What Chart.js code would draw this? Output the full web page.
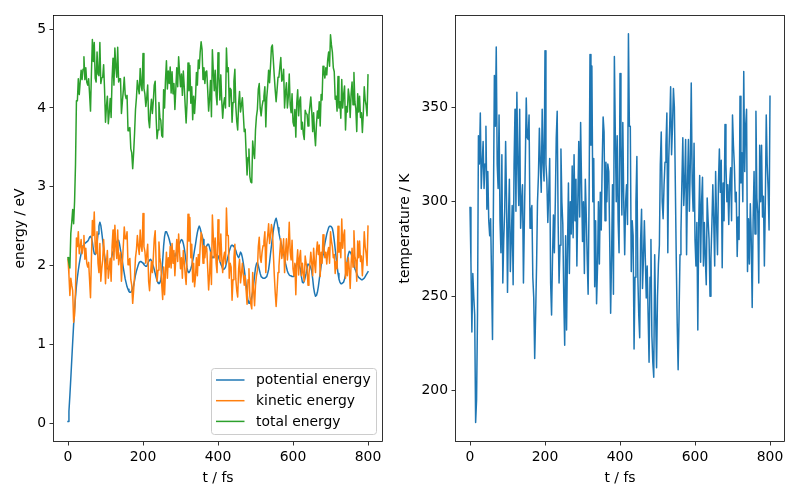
<!DOCTYPE html>
<html><head><meta charset="utf-8">
<script src="https://cdn.jsdelivr.net/npm/chart.js@4.4.1/dist/chart.umd.min.js"></script>
<style>
html,body{margin:0;padding:0;background:#fff;}
#wrap{position:relative;width:800px;height:500px;overflow:hidden;background:#fff;}
#c1{position:absolute;left:0;top:0;}
#c2{position:absolute;left:390px;top:0;}
</style></head><body>
<div id="wrap"><canvas id="c1" width="400" height="500"></canvas><canvas id="c2" width="410" height="500"></canvas></div>
<script>
// time in fs
const time = [
0,2.5,5,7.5,10,12.5,15,17.5,20,22.5,25,27.5,30,32.5,35,37.5,40,42.5,45,47.5,
50,52.5,55,57.5,60,62.5,65,67.5,70,72.5,75,77.5,80,82.5,85,87.5,90,92.5,95,97.5,
100,102.5,105,107.5,110,112.5,115,117.5,120,122.5,125,127.5,130,132.5,135,137.5,140,142.5,145,147.5,
150,152.5,155,157.5,160,162.5,165,167.5,170,172.5,175,177.5,180,182.5,185,187.5,190,192.5,195,197.5,
200,202.5,205,207.5,210,212.5,215,217.5,220,222.5,225,227.5,230,232.5,235,237.5,240,242.5,245,247.5,
250,252.5,255,257.5,260,262.5,265,267.5,270,272.5,275,277.5,280,282.5,285,287.5,290,292.5,295,297.5,
300,302.5,305,307.5,310,312.5,315,317.5,320,322.5,325,327.5,330,332.5,335,337.5,340,342.5,345,347.5,
350,352.5,355,357.5,360,362.5,365,367.5,370,372.5,375,377.5,380,382.5,385,387.5,390,392.5,395,397.5,
400,402.5,405,407.5,410,412.5,415,417.5,420,422.5,425,427.5,430,432.5,435,437.5,440,442.5,445,447.5,
450,452.5,455,457.5,460,462.5,465,467.5,470,472.5,475,477.5,480,482.5,485,487.5,490,492.5,495,497.5,
500,502.5,505,507.5,510,512.5,515,517.5,520,522.5,525,527.5,530,532.5,535,537.5,540,542.5,545,547.5,
550,552.5,555,557.5,560,562.5,565,567.5,570,572.5,575,577.5,580,582.5,585,587.5,590,592.5,595,597.5,
600,602.5,605,607.5,610,612.5,615,617.5,620,622.5,625,627.5,630,632.5,635,637.5,640,642.5,645,647.5,
650,652.5,655,657.5,660,662.5,665,667.5,670,672.5,675,677.5,680,682.5,685,687.5,690,692.5,695,697.5,
700,702.5,705,707.5,710,712.5,715,717.5,720,722.5,725,727.5,730,732.5,735,737.5,740,742.5,745,747.5,
750,752.5,755,757.5,760,762.5,765,767.5,770,772.5,775,777.5,780,782.5,785,787.5,790,792.5,795,797.5,
800];
// potential energy / eV
const potentialEnergy = [
0.02,0.15,0.35,0.57,0.80,1.03,1.25,1.44,1.60,1.74,1.85,1.94,2.02,2.09,2.15,2.21,2.25,2.27,2.28,2.29,
2.30,2.31,2.33,2.36,2.37,2.35,2.30,2.21,2.15,2.14,2.18,2.28,2.40,2.50,2.55,2.51,2.42,2.32,2.22,2.13,
2.05,1.99,1.96,1.96,1.98,2.03,2.08,2.13,2.18,2.22,2.25,2.28,2.30,2.32,2.32,2.27,2.20,2.13,2.05,1.97,
1.90,1.83,1.78,1.73,1.70,1.67,1.66,1.66,1.68,1.71,1.75,1.81,1.88,1.93,1.97,2.01,2.04,2.05,2.05,2.04,
2.03,2.01,2.00,1.99,1.99,2.02,2.05,2.07,2.08,2.06,2.02,1.99,1.95,1.90,1.85,1.81,1.78,1.77,1.78,1.82,
1.90,2.06,2.25,2.37,2.43,2.43,2.40,2.37,2.33,2.28,2.22,2.18,2.15,2.12,2.11,2.14,2.18,2.22,2.25,2.28,
2.31,2.33,2.32,2.28,2.22,2.14,2.05,1.97,1.92,1.91,1.93,1.96,2.00,2.06,2.12,2.20,2.27,2.35,2.42,2.47,
2.50,2.47,2.42,2.38,2.33,2.26,2.21,2.22,2.25,2.27,2.27,2.23,2.18,2.13,2.10,2.10,2.12,2.13,2.14,2.13,
2.12,2.09,2.05,2.02,1.99,1.96,1.95,1.96,1.98,2.03,2.08,2.13,2.18,2.22,2.25,2.26,2.25,2.24,2.22,2.19,
2.15,2.12,2.10,2.13,2.17,2.15,2.10,2.03,1.95,1.86,1.75,1.64,1.55,1.52,1.52,1.55,1.60,1.67,1.76,1.87,
1.97,2.02,2.04,2.00,1.95,1.90,1.86,1.85,1.84,1.84,1.84,1.85,1.86,1.90,1.95,2.04,2.15,2.25,2.35,2.44,
2.52,2.57,2.60,2.55,2.48,2.41,2.35,2.30,2.25,2.20,2.15,2.09,2.03,1.98,1.93,1.90,1.88,1.87,1.87,1.86,
1.86,1.90,1.95,2.00,2.03,2.03,2.02,1.99,1.95,1.86,1.79,1.78,1.80,1.85,1.90,1.96,2.02,2.02,2.00,1.97,
1.93,1.83,1.72,1.65,1.61,1.62,1.66,1.73,1.82,1.91,2.00,2.07,2.14,2.21,2.28,2.34,2.40,2.44,2.48,2.50,
2.50,2.49,2.47,2.41,2.32,2.21,2.10,2.00,1.90,1.83,1.79,1.77,1.77,1.78,1.79,1.83,1.88,1.98,2.08,2.14,
2.18,2.17,2.15,2.11,2.06,2.01,1.96,1.93,1.90,1.87,1.85,1.84,1.83,1.82,1.82,1.83,1.84,1.86,1.88,1.90,
1.92];
// kinetic energy / eV
const kineticEnergy = [
2.08,1.88,1.62,1.84,1.75,1.68,1.28,1.37,1.68,2.35,2.24,2.43,2.15,2.24,2.33,2.15,2.24,2.38,2.08,2.22,
2.03,1.98,2.04,1.82,1.59,2.10,2.57,2.38,2.68,2.24,2.15,2.43,2.03,1.91,2.28,1.80,1.96,2.07,2.33,2.10,
1.77,2.03,2.19,1.84,1.96,2.09,1.80,2.24,2.45,2.07,2.51,2.24,2.09,2.45,2.01,2.10,2.17,1.80,2.03,2.25,
2.49,2.34,2.34,2.43,2.01,2.07,2.09,1.82,1.75,1.52,1.68,1.87,2.10,2.20,2.38,2.24,2.14,2.45,2.24,2.18,
2.66,2.24,2.18,2.03,2.14,2.27,1.80,1.68,1.89,2.05,1.91,2.10,2.34,2.44,2.03,1.80,1.94,2.30,2.10,2.02,
1.75,1.57,1.98,1.63,1.93,2.17,1.84,2.10,1.98,2.24,1.97,2.28,2.03,2.19,1.87,2.10,2.33,2.05,2.40,2.17,
1.96,2.10,1.84,2.19,2.05,1.89,1.76,2.10,2.65,2.31,2.61,2.10,2.27,1.79,2.03,1.73,1.86,2.10,1.87,2.14,
2.00,2.24,2.42,2.36,2.03,2.25,2.10,2.24,2.22,1.96,1.69,1.89,2.17,1.76,2.64,2.36,2.10,2.35,2.03,1.91,
2.58,2.31,2.05,2.40,2.10,1.91,2.10,2.17,2.02,2.73,2.38,2.38,1.84,2.03,1.98,1.56,1.82,2.10,2.27,1.83,
1.68,1.60,1.96,2.08,1.78,1.89,2.03,1.89,1.75,1.87,1.68,1.51,1.82,1.96,1.61,1.51,1.45,1.91,1.68,1.49,
1.75,1.87,1.94,2.24,2.36,2.10,2.04,2.17,2.25,2.31,2.43,1.91,2.27,2.38,2.53,2.28,2.38,2.52,2.45,2.17,
1.89,1.66,1.48,1.68,1.91,1.99,2.17,2.34,2.09,2.17,2.34,1.91,2.17,2.34,2.07,2.24,2.55,2.17,2.07,2.32,
1.96,1.87,2.03,1.63,2.03,2.20,1.88,2.10,2.19,1.87,2.03,1.89,1.80,2.12,2.03,1.96,1.75,1.89,2.02,2.17,
2.03,1.87,2.22,2.03,1.91,2.17,2.30,2.14,2.26,1.86,2.17,2.03,2.39,2.24,2.10,2.17,2.02,2.17,2.23,2.03,
2.43,2.31,2.24,2.10,2.14,1.90,2.05,1.96,2.50,2.17,2.29,2.10,2.59,2.22,2.38,2.45,1.84,2.04,1.87,2.10,
1.96,1.71,2.03,2.22,1.98,2.44,2.12,2.06,1.80,2.31,2.10,2.31,2.05,2.12,1.87,2.10,2.43,2.24,2.15,2.00,
2.50];
// total energy / eV
const totalEnergy = [
2.10,2.03,1.97,2.41,2.55,2.71,2.53,2.81,3.28,4.09,4.09,4.37,4.17,4.33,4.48,4.36,4.49,4.65,4.36,4.51,
4.33,4.29,4.37,4.18,3.96,4.45,4.87,4.59,4.83,4.38,4.33,4.71,4.43,4.41,4.83,4.31,4.38,4.39,4.55,4.23,
3.82,4.02,4.15,3.80,3.94,4.12,3.88,4.37,4.63,4.29,4.76,4.52,4.39,4.77,4.33,4.37,4.37,3.93,4.08,4.22,
4.39,4.17,4.12,4.16,3.71,3.74,3.75,3.48,3.43,3.23,3.43,3.68,3.98,4.13,4.35,4.25,4.18,4.50,4.29,4.22,
4.69,4.25,4.18,4.02,4.13,4.29,3.85,3.75,3.97,4.11,3.93,4.09,4.29,4.34,3.88,3.61,3.72,4.07,3.88,3.84,
3.65,3.63,4.23,4.00,4.36,4.60,4.24,4.47,4.31,4.52,4.19,4.46,4.18,4.31,3.98,4.24,4.51,4.27,4.65,4.45,
4.27,4.43,4.16,4.47,4.27,4.03,3.81,4.07,4.57,4.22,4.54,4.06,4.27,3.85,4.15,3.93,4.13,4.45,4.29,4.61,
4.50,4.71,4.84,4.74,4.36,4.51,4.31,4.46,4.47,4.23,3.96,4.12,4.35,3.89,4.74,4.46,4.22,4.48,4.17,4.04,
4.70,4.40,4.10,4.42,4.09,3.87,4.05,4.13,4.00,4.76,4.46,4.51,4.02,4.25,4.23,3.82,4.07,4.34,4.49,4.02,
3.83,3.72,4.06,4.21,3.95,4.04,4.13,3.92,3.70,3.73,3.43,3.15,3.37,3.48,3.13,3.06,3.05,3.58,3.44,3.36,
3.72,3.89,3.98,4.24,4.31,4.00,3.90,4.02,4.09,4.15,4.27,3.76,4.13,4.28,4.48,4.32,4.53,4.77,4.80,4.61,
4.41,4.23,4.08,4.23,4.39,4.40,4.52,4.64,4.34,4.37,4.49,4.00,4.20,4.32,4.00,4.14,4.43,4.04,3.94,4.18,
3.82,3.77,3.98,3.63,4.06,4.23,3.90,4.09,4.14,3.73,3.82,3.67,3.60,3.97,3.93,3.92,3.77,3.91,4.02,4.14,
3.96,3.70,3.94,3.68,3.52,3.79,3.96,3.87,4.08,3.77,4.17,4.10,4.53,4.45,4.38,4.51,4.42,4.61,4.71,4.53,
4.93,4.80,4.71,4.51,4.46,4.11,4.15,3.96,4.40,4.00,4.08,3.87,4.36,4.00,4.17,4.28,3.72,4.02,3.95,4.24,
4.14,3.88,4.18,4.33,4.04,4.45,4.08,3.99,3.70,4.18,3.95,4.15,3.88,3.94,3.69,3.93,4.27,4.10,4.03,3.90,
4.42];
// temperature / K
const temperature = [
297,268,231,262,250,240,183,195,240,335,320,347,307,320,332,307,320,340,296,316,
290,282,291,260,227,300,367,340,382,320,307,346,290,273,325,257,280,295,332,300,
252,290,312,263,280,298,256,320,349,295,358,320,298,349,286,300,309,257,290,321,
355,334,333,346,286,295,298,260,249,217,240,266,300,314,339,320,305,349,320,311,
380,320,311,289,305,323,257,240,270,293,273,300,334,348,290,257,277,328,300,288,
250,224,282,232,275,310,262,300,283,319,281,325,290,312,266,300,332,292,342,309,
279,300,262,312,293,270,251,300,378,330,372,300,323,255,290,246,265,300,267,305,
285,320,345,337,290,321,300,320,316,280,241,270,309,251,377,336,300,335,290,273,
368,330,293,342,300,272,300,309,288,389,340,340,263,290,282,222,260,300,324,261,
240,228,280,296,254,270,290,270,249,266,240,215,260,280,229,215,207,272,240,212,
250,267,277,320,337,300,291,309,321,330,347,273,323,340,361,325,340,360,350,310,
270,236,211,240,272,284,310,334,298,310,333,272,310,333,295,320,363,310,295,331,
280,266,289,232,290,314,268,300,313,266,289,270,256,302,290,280,250,270,288,309,
290,266,316,290,272,310,328,305,322,265,310,290,341,320,300,309,288,310,318,290,
346,330,319,300,305,271,292,280,356,310,326,300,369,316,340,349,263,291,267,299,
280,244,290,316,283,348,302,294,257,330,300,330,292,303,266,299,346,320,307,285,
356];

const timeTicks = [0,200,400,600,800];
const energyTicks = [0,1,2,3,4,5];
const temperatureTicks = [200,250,300,350];
const seriesNames = ['potential energy','kinetic energy','total energy'];
const seriesColors = ['#1f77b4','#ff7f0e','#2ca02c'];

Chart.defaults.color = '#000';
Chart.defaults.font.family = '"DejaVu Sans", sans-serif';
Chart.defaults.font.size = 13.9;

const FONT = {family:'"DejaVu Sans", sans-serif', size:13.9};

function pts(arr){ return time.map((t,i)=>({x:t, y:arr[i]})); }

const framePlugin = {
  id:'frame',
  afterDatasetsDraw(chart){
    const {ctx, chartArea:a} = chart;
    ctx.save();
    ctx.strokeStyle = '#000';
    ctx.lineWidth = 0.8;
    ctx.strokeRect(Math.round(a.left)+0.5, Math.round(a.top)+0.5, Math.round(a.right)-Math.round(a.left)-1, Math.round(a.bottom)-Math.round(a.top)-1);
    ctx.restore();
  }
};

const legendPlugin = {
  id:'boxLegend',
  afterDraw(chart){
    const ctx = chart.ctx;
    const x = 211.5, y = 368.5, w = 165, h = 66, r = 3;
    ctx.save();
    ctx.beginPath();
    ctx.moveTo(x+r,y); ctx.lineTo(x+w-r,y); ctx.arcTo(x+w,y,x+w,y+r,r);
    ctx.lineTo(x+w,y+h-r); ctx.arcTo(x+w,y+h,x+w-r,y+h,r);
    ctx.lineTo(x+r,y+h); ctx.arcTo(x,y+h,x,y+h-r,r);
    ctx.lineTo(x,y+r); ctx.arcTo(x,y,x+r,y,r);
    ctx.closePath();
    ctx.fillStyle = 'rgba(255,255,255,0.8)';
    ctx.fill();
    ctx.strokeStyle = '#cccccc';
    ctx.lineWidth = 1;
    ctx.stroke();
    ctx.font = '13.9px "DejaVu Sans", sans-serif';
    ctx.textBaseline = 'middle';
    ctx.textAlign = 'left';
    const rows = [380, 400.7, 421.4];
    for (let i=0;i<3;i++){
      ctx.beginPath();
      ctx.moveTo(216, rows[i]); ctx.lineTo(244.5, rows[i]);
      ctx.strokeStyle = seriesColors[i];
      ctx.lineWidth = 1.5;
      ctx.stroke();
      ctx.fillStyle = '#000';
      ctx.fillText(seriesNames[i], 256, rows[i]+0.5);
    }
    ctx.restore();
  }
};

function xScale(){
  return {
    type:'linear', min:-40, max:840,
    afterBuildTicks: s => { s.ticks = timeTicks.map(v=>({value:v})); },
    afterFit: s => { s.height = 58; },
    grid:{drawOnChartArea:false, drawTicks:true, tickLength:3.5, color:'#000', lineWidth:0.8},
    border:{display:false},
    ticks:{color:'#000', font:FONT, padding:3.5, maxRotation:0, autoSkip:false},
    title:{display:true, text:'t / fs', color:'#000', font:FONT, padding:{top:0, bottom:13.7}}
  };
}
function yScale(min, max, ticks, width, title, tpad){
  return {
    type:'linear', min:min, max:max,
    afterBuildTicks: s => { s.ticks = ticks.map(v=>({value:v})); },
    afterFit: s => { s.width = width; },
    grid:{drawOnChartArea:false, drawTicks:true, tickLength:3.5, color:'#000', lineWidth:0.8},
    border:{display:false},
    ticks:{color:'#000', font:FONT, padding:3.5, autoSkip:false},
    title:{display:true, text:title, color:'#000', font:FONT, padding:{top:tpad, bottom:0}}
  };
}
const common = {
  animation:false, responsive:false, devicePixelRatio:1, events:[],
  plugins:{legend:{display:false}, tooltip:{enabled:false}},
  elements:{line:{borderWidth:1.5, tension:0, borderJoinStyle:'round', borderCapStyle:'square'}, point:{radius:0}}
};

new Chart(document.getElementById('c1'), {
  type:'line',
  data:{datasets:[
    {label:seriesNames[0], data:pts(potentialEnergy), borderColor:seriesColors[0], order:3},
    {label:seriesNames[1], data:pts(kineticEnergy), borderColor:seriesColors[1], order:2},
    {label:seriesNames[2], data:pts(totalEnergy), borderColor:seriesColors[2], order:1}
  ]},
  options:Object.assign({}, common, {
    layout:{padding:{left:0, top:15, right:17, bottom:0}},
    scales:{x:xScale(), y:yScale(-0.24, 5.18, energyTicks, 53, 'energy / eV', 11.7)}
  }),
  plugins:[framePlugin, legendPlugin]
});

new Chart(document.getElementById('c2'), {
  type:'line',
  data:{datasets:[
    {label:'temperature', data:pts(temperature), borderColor:'#1f77b4'}
  ]},
  options:Object.assign({}, common, {
    layout:{padding:{left:0, top:15, right:15, bottom:0}},
    scales:{x:xScale(), y:yScale(172.7, 399, temperatureTicks, 65, 'temperature / K', 6.7)}
  }),
  plugins:[framePlugin]
});
</script>
</body></html>
